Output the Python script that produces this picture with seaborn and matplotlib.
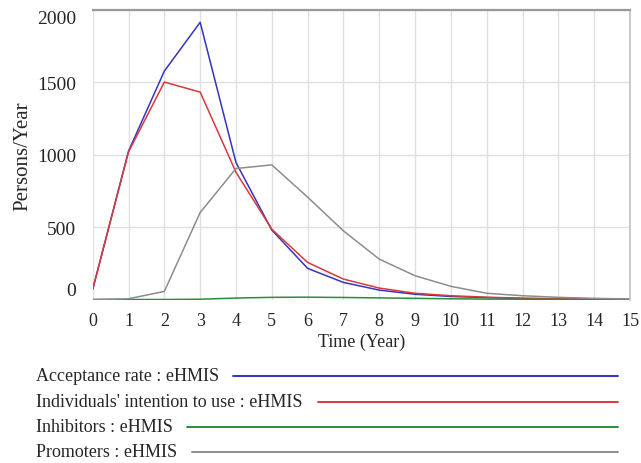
import numpy as np
import pandas as pd
import matplotlib
matplotlib.use("Agg")
import matplotlib.pyplot as plt
from matplotlib.lines import Line2D
import seaborn as sns

years = list(range(16))
acceptance = [70, 1025, 1578, 1915, 946, 480, 215, 118, 65, 36, 21, 13, 7, 4, 2, 1]
intention = [70, 1020, 1502, 1433, 879, 486, 256, 141, 79, 43, 26, 16, 9, 5, 3, 1]
inhibitors = [0, 0, 0, 2, 10, 15, 16, 14, 11, 8, 5, 3, 2, 1, 0, 0]
promoters = [0, 5, 56, 601, 905, 930, 707, 474, 279, 164, 91, 43, 26, 15, 8, 3]

series_names = ["Acceptance rate : eHMIS", "Individuals' intention to use : eHMIS",
                "Inhibitors : eHMIS", "Promoters : eHMIS"]
series_vals = [acceptance, intention, inhibitors, promoters]
colors = ["#3434c0", "#d83a3a", "#2e8b3a", "#8c8c8c"]
x_ticks = list(range(16))
y_ticks = [0, 500, 1000, 1500, 2000]

sns.set_style("white")
plt.rcParams['font.family'] = ['Liberation Serif', 'DejaVu Serif']

df = pd.DataFrame({
    "Time": np.tile(years, len(series_names)),
    "Value": np.concatenate([np.array(v, dtype=float) for v in series_vals]),
    "Series": np.repeat(series_names, len(years)),
})

fig = plt.figure(figsize=(6.41, 4.64), dpi=100)
W, H = 641, 464
ax = fig.add_axes([92.7 / W, 1 - 300.5 / H, (630 - 92.7) / W, (300.5 - 11) / H])

sns.lineplot(data=df, x="Time", y="Value", hue="Series", hue_order=series_names,
             palette=colors, linewidth=1.1, ax=ax, legend=False)

ax.set_xlim(0, 15)
ax.set_ylim(0, 2000)
ax.set_xticks(x_ticks)
ax.set_yticks(y_ticks)
ax.set_xticklabels([str(t) for t in x_ticks], fontsize=13)
ax.set_yticklabels([str(t) for t in y_ticks], fontsize=14)
yl = ax.get_yticklabels()
yl[0].set_va("bottom")
yl[-1].set_va("top")
ax.tick_params(axis="y", length=0, pad=12)
ax.tick_params(axis="x", length=0, pad=9)
ax.grid(True, color="#e0e0e0", linewidth=1.0)
for s in ["left", "bottom"]:
    ax.spines[s].set_visible(False)
ax.spines["top"].set_color("#9a9a9a")
ax.spines["top"].set_linewidth(1.6)
ax.spines["right"].set_color("#c0c0c0")
ax.spines["right"].set_linewidth(1.2)
ax.set_xlabel("Time (Year)", fontsize=13, labelpad=3)
ax.set_ylabel("Persons/Year", fontsize=15, labelpad=3)

# Vensim-style legend below the plot
row_y = [377, 403, 428, 453]
line_start = [233, 318, 187, 192]
for name, c, yy, xs in zip(series_names, colors, row_y, line_start):
    fig.text(36 / W, 1 - yy / H, name, fontsize=13, va="center", ha="left")
    fig.add_artist(Line2D([xs / W, 618 / W], [1 - yy / H, 1 - yy / H],
                          color=c, linewidth=1.4, transform=fig.transFigure))

fig.savefig("out.png", dpi=100)
